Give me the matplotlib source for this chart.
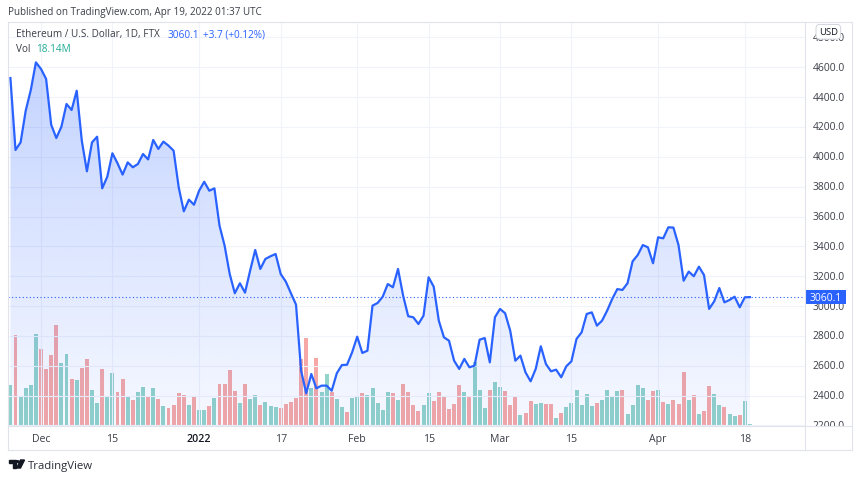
import numpy as np
import pandas as pd
import matplotlib
matplotlib.use("Agg")
import matplotlib.pyplot as plt
import matplotlib.dates as mdates
from matplotlib.patches import Rectangle, Polygon, Circle
from matplotlib.lines import Line2D

plt.rcParams['font.family'] = ['Open Sans', 'DejaVu Sans']

# ---------------- data ----------------
start_date = "2021-11-25"
close_prices = [
    4528, 4046, 4097, 4309, 4448, 4633,
    4589, 4522, 4215, 4126, 4202, 4354, 4314, 4443, 4108, 3903,
    4097, 4135, 3789, 3867, 4024, 3957, 3881, 3963, 3930, 3952,
    4019, 3983, 4113, 4053, 4102, 4075, 4041, 3796, 3635, 3713, 3679,
    3773, 3833, 3773, 3789, 3539, 3405, 3215, 3086, 3153, 3090,
    3237, 3376, 3249, 3316, 3334, 3349, 3215, 3164, 3086, 3010,
    2567, 2416, 2545, 2449, 2467, 2467, 2433, 2550, 2605, 2607, 2690,
    2795, 2686, 2701, 3003, 3021, 3063, 3148, 3126, 3249, 3070,
    2932, 2925, 2880, 2936, 3193, 3130, 2902, 2791, 2768, 2634,
    2579, 2646, 2590, 2601, 2775, 2786, 2623, 2925,
    2981, 2952, 2835, 2634, 2668, 2556, 2496, 2579, 2731, 2612,
    2563, 2574, 2523, 2597, 2630, 2780, 2824, 2947, 2958, 2869,
    2902, 2969, 3048, 3114, 3108, 3153, 3300, 3342, 3409, 3394, 3287,
    3461, 3454, 3528, 3526, 3409, 3170, 3231, 3200, 3264, 3208,
    2981, 3032, 3121, 3025, 3041, 3063, 2992, 3059, 3060.1,
]
volumes_m = [
    434, 977, 317, 407, 434, 988,
    827, 606, 763, 1076, 677, 770, 499, 488, 624, 717,
    388, 249, 606, 317, 570, 364, 499, 310, 274, 364,
    421, 317, 410, 292, 210, 193, 228, 353, 335, 220, 310,
    167, 174, 210, 300, 445, 445, 602, 375, 246, 453,
    292, 327, 220, 257, 210, 203, 193, 231, 257, 303,
    713, 945, 410, 731, 364, 552, 364, 292, 203, 150, 300,
    310, 356, 327, 410, 246, 174, 364, 353, 281, 453,
    364, 220, 161, 220, 353, 263, 364, 310, 182, 239,
    434, 364, 310, 685, 381, 193, 381, 471,
    417, 370, 220, 317, 121, 139, 263, 239, 246, 239,
    239, 89, 142, 203, 249, 381, 220, 346, 210, 246,
    281, 381, 310, 375, 388, 132, 228, 434, 410, 274, 375,
    381, 257, 239, 281, 239, 578, 274, 327, 132, 156,
    428, 338, 220, 203, 132, 103, 121, 263, 18.14,
]
# u = up (green) volume bar, d = down (red) volume bar
vol_dir_nov = "uduuuu"
vol_dir_dec = "ddddu ududd uuduu ddudu ududu ddddu d"
vol_dir_jan = "uudud dddud uuduu udddd ddudu uduud u"
vol_dir_feb = "uduuu uudud ddduu ddddd duduu udu"
vol_dir_mar = "udddu dduud duduu uuuud uuuud uuuud d"
vol_dir_apr = "ududd dudud duudu uduu"
vol_direction = "".join([vol_dir_nov, vol_dir_dec, vol_dir_jan, vol_dir_feb,
                         vol_dir_mar, vol_dir_apr]).replace(" ", "")

tick_dates = ["2021-12-01", "2021-12-15", "2022-01-01", "2022-01-17", "2022-02-01",
              "2022-02-15", "2022-03-01", "2022-03-15", "2022-04-01", "2022-04-18"]
tick_labels = ["Dec", "15", "2022", "17", "Feb", "15", "Mar", "15", "Apr", "18"]
price_ticks = [2200, 2400, 2600, 2800, 3000, 3200, 3400, 3600, 3800, 4000, 4200, 4400, 4600, 4800]
last_price = 3060.1
last_change = "+3.7 (+0.12%)"
last_volume = "18.14M"

# ---------------- layout helpers ----------------
W, H = 860, 481
def fx(px):
    return px / W
def fy(py):
    return 1 - py / H

LEFT, RIGHT, TOP, BOTTOM = 7.5, 805.0, 22.7, 427.0
SCALE_R, AXIS_B = 851.7, 450.7

fig = plt.figure(figsize=(W / 100, H / 100), dpi=100)
fig.patch.set_facecolor("white")

rect = [fx(LEFT), fy(BOTTOM), fx(RIGHT) - fx(LEFT), fy(TOP) - fy(BOTTOM)]
ax_vol = fig.add_axes(rect, zorder=1)
ax = fig.add_axes(rect, zorder=2)
ax.patch.set_alpha(0)

dates = pd.date_range(start_date, periods=len(close_prices), freq="D")
x = mdates.date2num(dates.to_pydatetime())
prices = np.array(close_prices, dtype=float)
ref = mdates.date2num(pd.Timestamp("2021-12-01").to_pydatetime())
xlim = (ref - 6.57, ref + 149.8)
ylim = (2196.6, 4905.5)

# volume bars
up_c, dn_c = "#92d3ca", "#f6a8a6"
vcolors = [up_c if c == "u" else dn_c for c in vol_direction]
ax_vol.bar(x, volumes_m, width=0.78, color=vcolors, linewidth=0)
ax_vol.set_xlim(*xlim)
ax_vol.set_ylim(0, 404.3 * 10.7)
ax_vol.axis("off")

# price area
ax.set_xlim(*xlim)
ax.set_ylim(*ylim)
poly = ax.fill_between(x, prices, ylim[0], color="none", lw=0)
n = 256
alpha = np.linspace(0.04, 0.28, n)
grad = np.zeros((n, 1, 4))
grad[:, 0, 0] = 41 / 255
grad[:, 0, 1] = 98 / 255
grad[:, 0, 2] = 255 / 255
grad[:, 0, 3] = alpha
im = ax.imshow(grad, extent=[x[0], x[-1], ylim[0], prices.max()], aspect="auto",
               origin="lower", zorder=2, interpolation="bilinear")
im.set_clip_path(poly.get_paths()[0], transform=ax.transData)
ax.plot(x, prices, color="#2962ff", lw=1.6, zorder=4, solid_joinstyle="round")
ax.axhline(last_price, color="#2962ff", lw=0.8, ls=(0, (1, 2.2)), zorder=3)
ax.set_xlim(*xlim)
ax.set_ylim(*ylim)

ax.set_yticks(price_ticks)
ax.set_xticks(mdates.date2num(pd.to_datetime(tick_dates).to_pydatetime()))
ax.set_xticklabels(tick_labels)
ax.grid(True, color="#f0f3fa", lw=0.8, zorder=0)
ax.set_axisbelow(True)
ax.tick_params(axis="y", left=False, labelleft=False)
ax.tick_params(axis="x", length=0, pad=5, labelsize=7.6, labelcolor="#3b3e48")
for lab in ax.get_xticklabels():
    if lab.get_text() == "2022":
        lab.set_fontweight("semibold")
        lab.set_color("#131722")
for s in ax.spines.values():
    s.set_visible(False)

# price scale
ax_ps = fig.add_axes([fx(RIGHT), fy(BOTTOM), fx(SCALE_R) - fx(RIGHT), fy(TOP) - fy(BOTTOM)], zorder=3)
ax_ps.set_xlim(0, 1)
ax_ps.set_ylim(*ylim)
ax_ps.axis("off")
for p in price_ticks:
    ax_ps.text(0.51, p, f"{p:.1f}", ha="center", va="center", fontsize=7.4,
               color="#3b3e48", clip_on=True)
ax_ps.add_patch(Rectangle((0.02, last_price - 45.6), 0.86, 91.2, facecolor="#2962ff",
                          edgecolor="none", zorder=5))
ax_ps.text(0.45, last_price, f"{last_price:.1f}", ha="center", va="center",
           fontsize=7.4, color="white", zorder=6)
ax_ps.text(0.50, 4838, "USD", ha="center", va="center", fontsize=6.8, color="#131722",
           zorder=8,
           bbox=dict(boxstyle="round,pad=0.3,rounding_size=0.4", fc="white",
                     ec="#d1d4dc", lw=0.7))

# frame lines
fc = "#e0e3eb"
for (x0, y0, x1, y1) in [(LEFT, TOP, SCALE_R, TOP), (LEFT, AXIS_B, SCALE_R, AXIS_B),
                         (LEFT, TOP, LEFT, AXIS_B), (SCALE_R, TOP, SCALE_R, AXIS_B),
                         (RIGHT, TOP, RIGHT, AXIS_B), (LEFT, BOTTOM, SCALE_R, BOTTOM)]:
    fig.add_artist(Line2D([fx(x0), fx(x1)], [fy(y0), fy(y1)], color=fc, lw=0.8,
                          transform=fig.transFigure, zorder=10))

# header and legend texts
fig.text(fx(8), fy(12), "Published on TradingView.com, Apr 19, 2022 01:37 UTC",
         fontsize=7.1, color="#3b3e48", va="center", ha="left")
fig.text(fx(16), fy(35), "Ethereum / U.S. Dollar, 1D, FTX", fontsize=7.2,
         color="#3b3e48", va="center", ha="left", zorder=11)
fig.text(fx(167), fy(35), f"{last_price:.1f}", fontsize=7.2, color="#2962ff",
         va="center", ha="left", zorder=11)
fig.text(fx(203), fy(35), last_change, fontsize=7.2, color="#2962ff",
         va="center", ha="left", zorder=11)
fig.text(fx(16), fy(50), "Vol", fontsize=7.2, color="#3b3e48", va="center", ha="left", zorder=11)
fig.text(fx(36), fy(50), last_volume, fontsize=7.2, color="#22ab94", va="center",
         ha="left", zorder=11)

# TradingView logo
logo_c = "#131722"
fig.add_artist(Polygon([(fx(8.5), fy(461)), (fx(15.5), fy(461)), (fx(15.5), fy(469)),
                        (fx(12.5), fy(469)), (fx(12.5), fy(464)), (fx(8.5), fy(464))],
                       closed=True, color=logo_c, transform=fig.transFigure))
fig.add_artist(Circle((fx(17.6), fy(462.6)), 1.5 / W, color=logo_c, transform=fig.transFigure))
fig.add_artist(Polygon([(fx(20.5), fy(461)), (fx(24.5), fy(461)), (fx(20.5), fy(469)),
                        (fx(16.8), fy(469))], closed=True, color=logo_c, transform=fig.transFigure))
fig.text(fx(28), fy(466), "TradingView", fontsize=8.2, color="#2a2e39", va="center", ha="left")

fig.savefig("out.png", dpi=100, facecolor="white")
